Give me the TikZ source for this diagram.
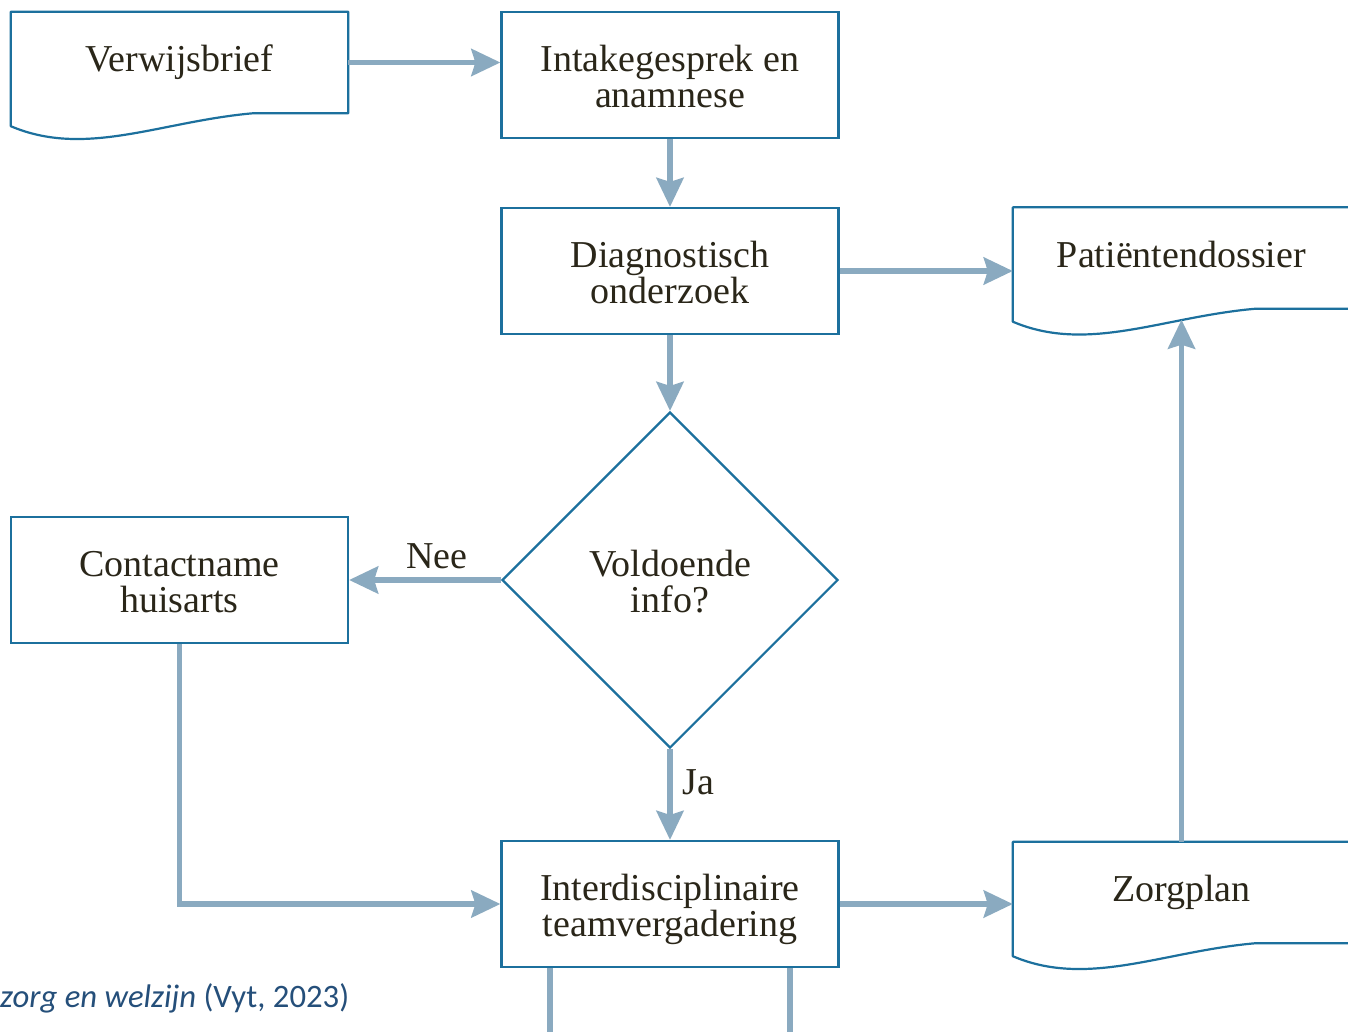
\documentclass[tikz,border=0pt]{standalone}
\usepackage{fontspec}
\setmainfont{Liberation Serif}
\newfontfamily\capfont{Carlito}
\usetikzlibrary{arrows.meta,shapes.geometric,calc}
\definecolor{boxblue}{RGB}{28,112,157}
\definecolor{flowblue}{RGB}{138,170,192}
\definecolor{ink}{RGB}{42,38,25}
\definecolor{capblue}{RGB}{37,79,122}

% outline of a document symbol: flat top, wavy bottom edge
\newcommand\docoutline[1]{%
  \draw[docline] ($(#1.south west)+(0,13)$) -- (#1.north west) -- (#1.north east)
    -- (#1.south east) -- ($(#1.south west)+(243,0)$)
    .. controls ($(#1.south west)+(150,8)$) and ($(#1.south west)+(75,45)$)
    .. ($(#1.south west)+(0,13)$) -- cycle;}

% two centred lines with fixed outer height and depth
\newcommand\twolines[2]{\rule{0pt}{37pt}#1\\#2\rule[-8pt]{0pt}{8pt}}

\begin{document}
\begin{tikzpicture}[x=1pt,y=-1pt,
  lbl/.style={font=\fontsize{38}{36}\selectfont, text=ink, align=center},
  stepbox/.style={lbl, draw=boxblue, line width=2.2pt, rectangle,
    minimum width=337pt, minimum height=126pt, inner sep=0pt},
  decision/.style={lbl, draw=boxblue, line width=2.2pt, diamond, aspect=1,
    minimum width=336pt, minimum height=336pt, inner sep=0pt},
  docbox/.style={lbl, rectangle, minimum width=337pt, minimum height=101pt,
    inner sep=0pt, text height=26pt, text depth=8pt},
  docline/.style={draw=boxblue, line width=2.2pt, line join=round},
  flow/.style={draw=flowblue, line width=5.5pt,
    -{Stealth[length=29pt,width=27pt,inset=4pt]}},
  feed/.style={draw=flowblue, line width=5.5pt},
  tag/.style={font=\fontsize{38}{36}\selectfont, text=ink, inner sep=0pt},
]
\useasboundingbox (0,0) rectangle (1348,1032);
\fill[white] (0,0) rectangle (1348,1032);
\clip (0,0) rectangle (1348,1032);

% nodes
\node[docbox] (verw) at (179.5,62.5) {Verwijsbrief};
\node[stepbox] (intake) at (670,75) {\twolines{Intakegesprek en}{anamnese}};
\node[stepbox] (diag) at (670,271) {\twolines{Diagnostisch}{onderzoek}};
\node[docbox] (dossier) at (1181.5,258) {Patiëntendossier};
\node[decision] (check) at (670,580) {\twolines{Voldoende}{info?}};
\node[stepbox] (huisarts) at (179.5,580) {\twolines{Contactname}{huisarts}};
\node[stepbox] (team) at (670,904) {\twolines{Interdisciplinaire}{teamvergadering}};
\node[docbox] (plan) at (1181.5,892.5) {Zorgplan};

\docoutline{verw}
\docoutline{dossier}
\docoutline{plan}

% connectors
\draw[flow] (verw.east) -- (verw.east -| intake.west);
\draw[flow] (intake.south) -- (diag.north);
\draw[flow] (diag.east) -- (diag.east -| dossier.west);
\draw[flow] (diag.south) -- (check.north);
\draw[flow] (check.west) -- node[tag, pos=0.42, anchor=base, yshift=12pt] {Nee} (huisarts.east);
\draw[flow] (check.south) -- node[tag, pos=0.5, anchor=base west, xshift=10pt] {Ja} (team.north);
\draw[flow] (huisarts.south) |- (team.west);
\draw[flow] (team.east) -- (team.east -| plan.west);
\coordinate (wave) at ($(dossier.south)+(0,11)$);
\draw[flow] (plan.north) -- (wave);

% outgoing lines continuing below
\coordinate (offA) at (550,1045);
\coordinate (offB) at (790,1045);
\draw[feed] (team.south -| offA) -- (offA);
\draw[feed] (team.south -| offB) -- (offB);

% source line
\node[anchor=base west, inner sep=0pt, text=capblue,
  font=\capfont\fontsize{32.7}{36}\selectfont] (source) at (0,1007)
  {{\itshape zorg en welzijn} (Vyt, 2023)};
\end{tikzpicture}
\end{document}
